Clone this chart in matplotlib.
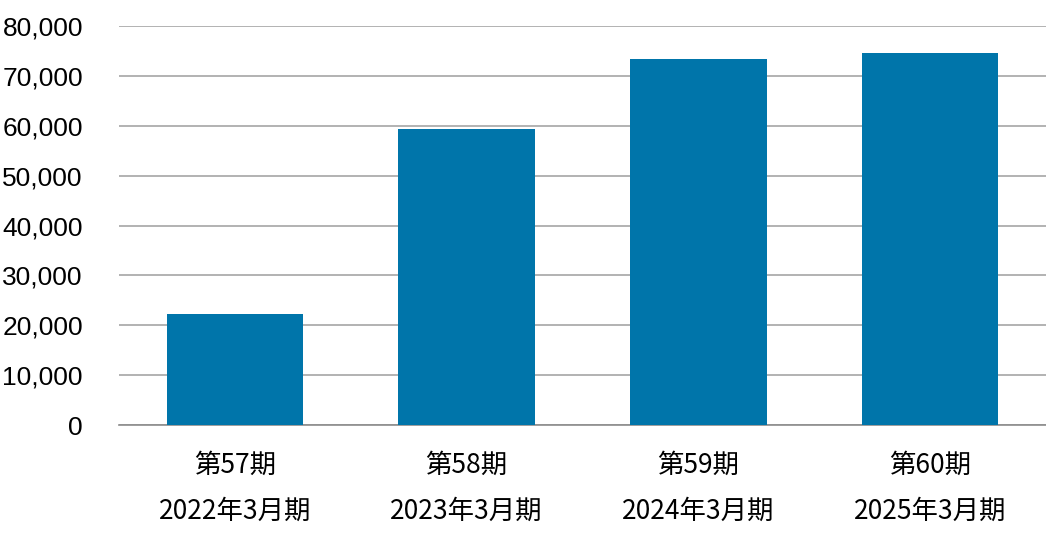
import matplotlib.pyplot as plt
from matplotlib.ticker import FuncFormatter

periods = ['第57期', '第58期', '第59期', '第60期']
fiscal_years = ['2022年3月期', '2023年3月期', '2024年3月期', '2025年3月期']
values = [22300, 59400, 73300, 74600]

bar_color = '#0075AA'


def generate_bar_chart(name):
    fig = plt.figure(figsize=(10.46, 5.38), dpi=100)
    ax = fig.add_axes([0.1138, 0.210, 0.8862, 0.7417])

    labels = [f'{p}\n{y}' for p, y in zip(periods, fiscal_years)]
    x = range(len(values))
    ax.bar(x, values, width=0.59, color=bar_color, zorder=3)

    ax.set_xlim(-0.5, len(values) - 0.5)
    ax.set_ylim(0, 80000)
    ax.set_yticks(range(0, 80001, 10000))
    ax.yaxis.set_major_formatter(FuncFormatter(lambda v, p: f'{int(v):,}'))
    ax.set_xticks(list(x))
    ax.set_xticklabels(labels, family=['Noto Sans CJK JP', 'DejaVu Sans'],
                       fontsize=19, linespacing=1.92)

    for lbl in ax.get_yticklabels():
        lbl.set_family(['Liberation Sans', 'DejaVu Sans'])
        lbl.set_fontsize(19)

    ax.grid(axis='y', color='#a6a6a6', linewidth=1.2, zorder=0)
    for side in ['top', 'right', 'left']:
        ax.spines[side].set_visible(False)
    ax.spines['bottom'].set_color('#8c8c8c')
    ax.spines['bottom'].set_linewidth(1.2)
    ax.tick_params(axis='both', length=0)
    ax.tick_params(axis='y', pad=26)
    ax.tick_params(axis='x', pad=19)

    plt.savefig(name, dpi=100)
    plt.close()


if __name__ == '__main__':
    generate_bar_chart('out.png')
